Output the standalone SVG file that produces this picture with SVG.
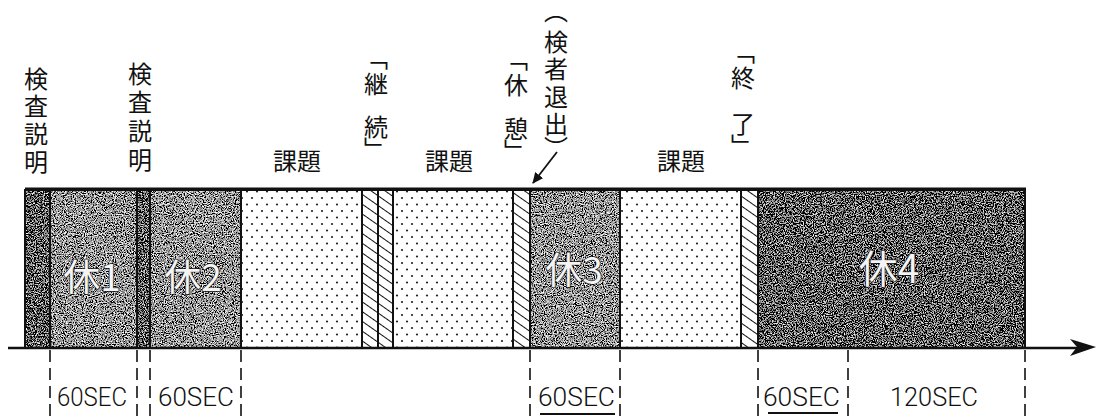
<svg xmlns="http://www.w3.org/2000/svg" width="1098" height="417" viewBox="0 0 1098 417">
<style>
.jp{font-family:"Noto Sans CJK JP","Noto Sans CJK SC",sans-serif;fill:#111;}
.v{font-size:24px;text-anchor:middle;dominant-baseline:central;}
.vb{font-size:24px;writing-mode:vertical-rl;}
.h{font-size:24px;text-anchor:middle;}
.big{font-family:"Noto Sans CJK JP","Noto Sans CJK SC",sans-serif;font-size:37px;text-anchor:middle;fill:#f4f4f4;stroke:#111;stroke-width:1.3;paint-order:stroke;}
.sec{font-family:Roboto,"Liberation Sans",sans-serif;font-weight:300;font-size:25px;fill:#111;}
.seg{stroke:#111;stroke-width:2;}
.dash{stroke:#111;stroke-width:1.6;stroke-dasharray:12 6;fill:none;}
</style>
<defs>
<pattern id="dots" width="10" height="13" patternUnits="userSpaceOnUse">
<rect width="10" height="13" fill="#fff"/>
<circle cx="2" cy="3" r="1.1" fill="#222"/>
<circle cx="7" cy="9.5" r="1.1" fill="#222"/>
</pattern>
<pattern id="hatch" width="8" height="8" patternUnits="userSpaceOnUse" patternTransform="rotate(-55)">
<rect width="8" height="8" fill="#fff"/>
<line x1="0" y1="0" x2="0" y2="8" stroke="#111" stroke-width="2"/>
</pattern>
<filter id="grainL" x="0" y="0" width="100%" height="100%">
<feTurbulence type="fractalNoise" baseFrequency="0.9" numOctaves="2" seed="4" result="n"/>
<feColorMatrix in="n" type="matrix" values="0.33 0.33 0.33 0 0 0.33 0.33 0.33 0 0 0.33 0.33 0.33 0 0 0 0 0 0 1" result="g"/>
<feComponentTransfer in="g" result="c">
<feFuncR type="linear" slope="5" intercept="-2.15"/>
<feFuncG type="linear" slope="5" intercept="-2.15"/>
<feFuncB type="linear" slope="5" intercept="-2.15"/>
</feComponentTransfer>
<feComposite in="c" in2="SourceGraphic" operator="in"/>
</filter>
<filter id="grainD" x="0" y="0" width="100%" height="100%">
<feTurbulence type="fractalNoise" baseFrequency="0.9" numOctaves="2" seed="9" result="n"/>
<feColorMatrix in="n" type="matrix" values="0.33 0.33 0.33 0 0 0.33 0.33 0.33 0 0 0.33 0.33 0.33 0 0 0 0 0 0 1" result="g"/>
<feComponentTransfer in="g" result="c">
<feFuncR type="linear" slope="5" intercept="-2.35"/>
<feFuncG type="linear" slope="5" intercept="-2.35"/>
<feFuncB type="linear" slope="5" intercept="-2.35"/>
</feComponentTransfer>
<feComposite in="c" in2="SourceGraphic" operator="in"/>
</filter>
<marker id="ah" markerWidth="12" markerHeight="10" refX="10" refY="5" orient="auto" markerUnits="userSpaceOnUse">
<path d="M0,0 L11,5 L0,10 Z" fill="#111"/>
</marker>
</defs>
<rect width="1098" height="417" fill="#fff"/>

<g id="seg-intro1"><rect x="25" y="190" width="25" height="158" fill="#333" filter="url(#grainD)"/><rect x="25" y="190" width="25" height="158" fill="none" class="seg"/></g>
<g id="seg-rest1"><rect x="50" y="190" width="87" height="158" fill="#777" filter="url(#grainL)"/><rect x="50" y="190" width="87" height="158" fill="none" class="seg"/><text class="big" x="92" y="291">休1</text></g>
<g id="seg-intro2"><rect x="137" y="190" width="13" height="158" fill="#333" filter="url(#grainD)"/><rect x="137" y="190" width="13" height="158" fill="none" class="seg"/></g>
<g id="seg-rest2"><rect x="150" y="190" width="91" height="158" fill="#777" filter="url(#grainL)"/><rect x="150" y="190" width="91" height="158" fill="none" class="seg"/><text class="big" x="193" y="291">休2</text></g>
<g id="seg-task1"><rect x="241" y="190" width="121" height="158" fill="url(#dots)" class="seg"/></g>
<g id="seg-cont1"><rect x="362" y="190" width="16" height="158" fill="url(#hatch)" class="seg"/></g>
<g id="seg-cont2"><rect x="378" y="190" width="15" height="158" fill="url(#hatch)" class="seg"/></g>
<g id="seg-task2"><rect x="393" y="190" width="120" height="158" fill="url(#dots)" class="seg"/></g>
<g id="seg-break"><rect x="513" y="190" width="17" height="158" fill="url(#hatch)" class="seg"/></g>
<g id="seg-rest3"><rect x="530" y="190" width="90" height="158" fill="#777" filter="url(#grainL)"/><rect x="530" y="190" width="90" height="158" fill="none" class="seg"/><text class="big" x="574" y="284">休3</text></g>
<g id="seg-task3"><rect x="620" y="190" width="121" height="158" fill="url(#dots)" class="seg"/></g>
<g id="seg-end"><rect x="741" y="190" width="17" height="158" fill="url(#hatch)" class="seg"/></g>
<g id="seg-rest4"><rect x="758" y="190" width="267" height="158" fill="#3a3a3a" filter="url(#grainD)"/><rect x="758" y="190" width="267" height="158" fill="none" class="seg"/><text class="big" x="889" y="283" style="font-size:39px">休4</text></g>
<line x1="25" y1="189" x2="1026" y2="189" stroke="#111" stroke-width="3"/>

<g id="connectors">
<line x1="8" y1="348" x2="1080" y2="348" stroke="#111" stroke-width="2.6"/>
<path d="M1070,339 L1096,347 L1070,356 L1077,347 Z" fill="#111"/>
<line x1="557" y1="152" x2="533" y2="183" stroke="#111" stroke-width="1.8" marker-end="url(#ah)"/>
<line class="dash" x1="50" y1="350" x2="50" y2="417"/>
<line class="dash" x1="137" y1="350" x2="137" y2="417"/>
<line class="dash" x1="150" y1="350" x2="150" y2="417"/>
<line class="dash" x1="241" y1="350" x2="241" y2="417"/>
<line class="dash" x1="530" y1="350" x2="530" y2="417"/>
<line class="dash" x1="620" y1="350" x2="620" y2="417"/>
<line class="dash" x1="758" y1="350" x2="758" y2="417"/>
<line class="dash" x1="848" y1="350" x2="848" y2="417"/>
<line class="dash" x1="1025" y1="350" x2="1025" y2="417"/>
<line x1="540" y1="414" x2="615" y2="414" stroke="#111" stroke-width="2"/>
<line x1="768" y1="413" x2="838" y2="413" stroke="#111" stroke-width="2"/>
</g>

<g id="dur-labels">
<text class="sec" x="57" y="406" textLength="70" lengthAdjust="spacingAndGlyphs">60SEC</text>
<text class="sec" x="158" y="406" textLength="76" lengthAdjust="spacingAndGlyphs">60SEC</text>
<text class="sec" x="538" y="406" textLength="77" lengthAdjust="spacingAndGlyphs">60SEC</text>
<text class="sec" x="763" y="406" textLength="77" lengthAdjust="spacingAndGlyphs">60SEC</text>
<text class="sec" x="890" y="406" textLength="88" lengthAdjust="spacingAndGlyphs">120SEC</text>
</g>

<g id="label-explain1">
<text class="jp v" x="36" y="77">検</text><text class="jp v" x="36" y="104">査</text><text class="jp v" x="36" y="132">説</text><text class="jp v" x="36" y="160">明</text>
</g>
<g id="label-explain2">
<text class="jp v" x="140" y="72">検</text><text class="jp v" x="140" y="100">査</text><text class="jp v" x="140" y="129">説</text><text class="jp v" x="140" y="158">明</text>
</g>
<g id="label-task1"><text class="jp h" x="297" y="170">課題</text></g>
<g id="label-continue">
<text class="jp vb" x="376" y="46">「</text>
<text class="jp v" x="376" y="82">継</text><text class="jp v" x="376" y="125">続</text>
<text class="jp vb" x="376" y="137">」</text>
</g>
<g id="label-task2"><text class="jp h" x="449" y="170">課題</text></g>
<g id="label-rest">
<text class="jp vb" x="516" y="47">「</text>
<text class="jp v" x="516" y="83">休</text><text class="jp v" x="516" y="127">憩</text>
<text class="jp vb" x="516" y="139">」</text>
</g>
<g id="label-exit">
<text class="jp vb" x="556" y="-1">（</text>
<text class="jp v" x="556" y="40">検</text><text class="jp v" x="556" y="67">者</text><text class="jp v" x="556" y="95">退</text><text class="jp v" x="556" y="122">出</text>
<text class="jp vb" x="556" y="136">）</text>
</g>
<g id="label-task3"><text class="jp h" x="681" y="170">課題</text></g>
<g id="label-end">
<text class="jp vb" x="743" y="40">「</text>
<text class="jp v" x="743" y="76">終</text><text class="jp v" x="743" y="122">了</text>
<text class="jp vb" x="743" y="134">」</text>
</g>
</svg>
